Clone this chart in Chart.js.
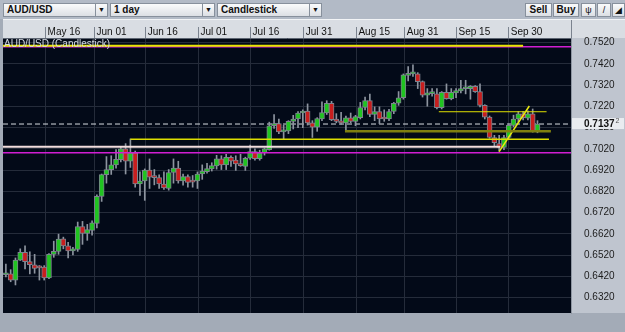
<!DOCTYPE html>
<html>
<head>
<meta charset="utf-8">
<script src="https://cdn.jsdelivr.net/npm/chart.js@4.4.1/dist/chart.umd.min.js"></script>
<style>
  html, body { margin: 0; padding: 0; }
  body { width: 625px; height: 332px; background: #a7afbb; position: relative; overflow: hidden; font-family: "Liberation Sans", Arial, sans-serif; }
  #toolbar { position: absolute; left: 0; top: 0; width: 625px; height: 19px; background: #b2bac6; }
  .dd, .btn { position: absolute; top: 3px; height: 14px; box-sizing: border-box; border: 1px solid #87909c;
    background: linear-gradient(#fafbfc, #dcdfe4); font-size: 10px; font-weight: bold; line-height: 12px; color: #111; }
  .dd span { padding-left: 3px; }
  .dd i { position: absolute; right: 0; top: 0; width: 11px; height: 12px; border-left: 1px solid #87909c;
    font-style: normal; font-size: 7px; text-align: center; line-height: 12px; }
  .btn { text-align: center; }
  .ic { font-weight: normal; font-size: 9px; }
  #chart { position: absolute; left: 0; top: 19px; }
</style>
</head>
<body>
<div id="toolbar">
  <div class="dd" style="left:3px;width:105px"><span>AUD/USD</span><i>&#9660;</i></div>
  <div class="dd" style="left:110px;width:105px"><span>1 day</span><i>&#9660;</i></div>
  <div class="dd" style="left:217px;width:105px"><span>Candlestick</span><i>&#9660;</i></div>
  <div class="btn" style="left:525px;width:27px">Sell</div>
  <div class="btn" style="left:553px;width:26px">Buy</div>
  <div class="btn ic" style="left:581px;width:15px">&#968;</div>
  <div class="btn ic" style="left:597px;width:14px">/</div>
  <div class="btn ic" style="left:612px;width:13px">&#9698;</div>
</div>
<canvas id="chart" width="625" height="313"></canvas>
<script>
// daily candles, AUD/USD
const opens = [0.6428, 0.6432, 0.6403, 0.6497, 0.6533, 0.6490, 0.6475, 0.6464, 0.6464, 0.6413,
  0.6524, 0.6538, 0.6597, 0.6564, 0.6540, 0.6547, 0.6655, 0.6622, 0.6636, 0.6670,
  0.6797, 0.6899, 0.6923, 0.6945, 0.6969, 0.7020, 0.6962, 0.7002, 0.6855, 0.6869,
  0.6920, 0.6890, 0.6885, 0.6855, 0.6834, 0.6909, 0.6930, 0.6869, 0.6890, 0.6870,
  0.6869, 0.6902, 0.6913, 0.6926, 0.6940, 0.6974, 0.6945, 0.6981, 0.6967, 0.6951,
  0.6938, 0.6976, 0.7008, 0.6974, 0.7002, 0.7017, 0.7129, 0.7139, 0.7100, 0.7105,
  0.7150, 0.7161, 0.7189, 0.7198, 0.7143, 0.7122, 0.7161, 0.7189, 0.7235, 0.7161,
  0.7150, 0.7143, 0.7166, 0.7149, 0.7167, 0.7215, 0.7247, 0.7182, 0.7196, 0.7165,
  0.7161, 0.7196, 0.7235, 0.7261, 0.7366, 0.7373, 0.7373, 0.7337, 0.7273, 0.7280,
  0.7279, 0.7214, 0.7286, 0.7257, 0.7283, 0.7293, 0.7303, 0.7304, 0.7314, 0.7290,
  0.7225, 0.7170, 0.7074, 0.7045, 0.7027, 0.7074, 0.7131, 0.7161, 0.7185, 0.7165,
  0.7185, 0.7103];
const highs = [0.6478, 0.6452, 0.6507, 0.6550, 0.6564, 0.6536, 0.6524, 0.6471, 0.6471, 0.6528,
  0.6586, 0.6619, 0.6605, 0.6581, 0.6557, 0.6676, 0.6679, 0.6665, 0.6682, 0.6804,
  0.6902, 0.6984, 0.6988, 0.7017, 0.7031, 0.7045, 0.7067, 0.7010, 0.6912, 0.6926,
  0.6973, 0.6923, 0.6898, 0.6912, 0.6923, 0.6973, 0.6962, 0.6902, 0.6898, 0.6895,
  0.6912, 0.6945, 0.6952, 0.6955, 0.6990, 0.6988, 0.6995, 0.6988, 0.6988, 0.6995,
  0.6981, 0.7038, 0.7020, 0.7014, 0.7024, 0.7146, 0.7182, 0.7161, 0.7132, 0.7153,
  0.7178, 0.7196, 0.7204, 0.7232, 0.7153, 0.7167, 0.7242, 0.7247, 0.7244, 0.7186,
  0.7192, 0.7175, 0.7189, 0.7178, 0.7239, 0.7264, 0.7278, 0.7218, 0.7218, 0.7204,
  0.7206, 0.7239, 0.7290, 0.7373, 0.7408, 0.7416, 0.7379, 0.7340, 0.7304, 0.7304,
  0.7304, 0.7290, 0.7326, 0.7304, 0.7304, 0.7343, 0.7343, 0.7318, 0.7318, 0.7326,
  0.7228, 0.7175, 0.7084, 0.7084, 0.7084, 0.7139, 0.7179, 0.7196, 0.7196, 0.7199,
  0.7208, 0.7153];
const lows = [0.6418, 0.6395, 0.6380, 0.6495, 0.6456, 0.6432, 0.6435, 0.6403, 0.6403, 0.6409,
  0.6510, 0.6524, 0.6550, 0.6507, 0.6521, 0.6538, 0.6571, 0.6590, 0.6614, 0.6648,
  0.6773, 0.6859, 0.6900, 0.6930, 0.6959, 0.6902, 0.6933, 0.6840, 0.6801, 0.6778,
  0.6834, 0.6851, 0.6834, 0.6830, 0.6826, 0.6859, 0.6859, 0.6849, 0.6840, 0.6840,
  0.6834, 0.6877, 0.6906, 0.6916, 0.6925, 0.6923, 0.6923, 0.6938, 0.6919, 0.6938,
  0.6919, 0.6971, 0.6967, 0.6967, 0.6991, 0.7014, 0.7117, 0.7092, 0.7064, 0.7092,
  0.7114, 0.7120, 0.7120, 0.7132, 0.7074, 0.7103, 0.7153, 0.7182, 0.7153, 0.7143,
  0.7135, 0.7110, 0.7143, 0.7129, 0.7161, 0.7204, 0.7172, 0.7153, 0.7139, 0.7150,
  0.7153, 0.7186, 0.7225, 0.7254, 0.7340, 0.7361, 0.7304, 0.7264, 0.7221, 0.7268,
  0.7208, 0.7208, 0.7254, 0.7251, 0.7261, 0.7283, 0.7279, 0.7254, 0.7286, 0.7218,
  0.7161, 0.7070, 0.7031, 0.7010, 0.7017, 0.7067, 0.7124, 0.7146, 0.7156, 0.7156,
  0.7099, 0.7096];
const closes = [0.6435, 0.6403, 0.6497, 0.6533, 0.6490, 0.6475, 0.6458, 0.6460, 0.6413, 0.6524,
  0.6538, 0.6596, 0.6564, 0.6540, 0.6550, 0.6655, 0.6622, 0.6640, 0.6672, 0.6797,
  0.6899, 0.6923, 0.6945, 0.6971, 0.7020, 0.6962, 0.7002, 0.6855, 0.6869, 0.6920,
  0.6887, 0.6885, 0.6855, 0.6837, 0.6909, 0.6930, 0.6869, 0.6890, 0.6863, 0.6864,
  0.6902, 0.6916, 0.6928, 0.6942, 0.6974, 0.6945, 0.6981, 0.6962, 0.6950, 0.6941,
  0.6976, 0.7008, 0.6974, 0.7002, 0.7020, 0.7129, 0.7139, 0.7100, 0.7107, 0.7150,
  0.7161, 0.7189, 0.7198, 0.7143, 0.7122, 0.7163, 0.7191, 0.7235, 0.7158, 0.7149,
  0.7143, 0.7166, 0.7149, 0.7172, 0.7215, 0.7247, 0.7182, 0.7196, 0.7161, 0.7161,
  0.7196, 0.7235, 0.7261, 0.7369, 0.7376, 0.7379, 0.7337, 0.7273, 0.7284, 0.7283,
  0.7214, 0.7286, 0.7257, 0.7286, 0.7294, 0.7304, 0.7307, 0.7314, 0.7290, 0.7225,
  0.7170, 0.7074, 0.7050, 0.7027, 0.7074, 0.7131, 0.7161, 0.7185, 0.7167, 0.7185,
  0.7103, 0.7137];
const lastPrice = 0.71372;

const dateLabels = ["May 16", "Jun 01", "Jun 16", "Jul 01", "Jul 16", "Jul 31", "Aug 15", "Aug 31", "Sep 15", "Sep 30"];
const dateIdx = [8.3, 18.5, 29.2, 40.2, 51.1, 62.2, 73.2, 83.3, 94.1, 105.0];
const priceTicks = [0.6320, 0.6420, 0.6520, 0.6620, 0.6720, 0.6820, 0.6920, 0.7020, 0.7120, 0.7220, 0.7320, 0.7420, 0.7520];

// drawn levels and trend line (candle index / price)
const xMin = -0.6, xMax = 118;
const levelPrice = [0.7505, 0.7501, 0.7195, 0.7103, 0.7066, 0.7030, 0.7002];
const levelFrom = [xMin, xMin, 90.4, 70.8, 26.0, xMin, xMin];
const levelTo = [108.0, xMax, 112.9, 113.8, 113.4, 103.2, xMax];
const trendX = [103.0, 109.3];
const trendY = [0.7007, 0.7222];

const levelColor = ["#e6e600", "#d21ed2", "#e0e000", "#80800f", "#dede00", "#f3dede", "#d21ed2"];
const levelWidth = [2, 1.5, 1, 2.5, 1.5, 2, 1.5];

const FONT = "'Liberation Sans', Arial, sans-serif";
const GRID = "#252c3a";

const chrome = {
  id: "chrome",
  beforeDraw(chart) {
    const { ctx, chartArea: a, width, height } = chart;
    ctx.save();
    ctx.fillStyle = "#a3abb7";
    ctx.fillRect(0, 0, width, height);
    ctx.fillStyle = "#d9dde3";
    ctx.fillRect(a.left, 0, width - a.left, a.top);
    ctx.fillStyle = "#bfc5cf";
    ctx.fillRect(a.right, a.top, width - a.right, a.bottom - a.top);
    ctx.fillStyle = "#030a18";
    ctx.fillRect(a.left, a.top, a.right - a.left, a.bottom - a.top);
    ctx.restore();
  },
  afterDraw(chart) {
    const { ctx, chartArea: a, width } = chart;
    ctx.save();
    // header cell edges
    ctx.fillStyle = "#7b838f";
    ctx.fillRect(a.right, 0, 1, a.top);
    ctx.fillStyle = "#f2f4f6";
    ctx.fillRect(a.left, 0, width - a.left, 1);
    // title
    ctx.font = "10px " + FONT;
    ctx.fillStyle = "#d3d9e1";
    ctx.textBaseline = "alphabetic";
    ctx.fillText("AUD/USD (Candlestick)", a.left + 1, a.top + 9);
    // current price tag
    const y = chart.scales.y.getPixelForValue(lastPrice);
    ctx.fillStyle = "#e9ecf0";
    ctx.fillRect(a.right + 1, y - 6, width - a.right - 2, 11);
    ctx.fillStyle = "#111";
    ctx.font = "bold 10px " + FONT;
    ctx.textBaseline = "middle";
    const txt = lastPrice.toFixed(4);
    ctx.fillText(txt, a.right + 13, y);
    const w = ctx.measureText(txt).width;
    ctx.font = "7px " + FONT;
    ctx.fillStyle = "#555";
    ctx.fillText(String(Math.round(lastPrice * 1e5) % 10), a.right + 14 + w, y - 3);
    ctx.restore();
  }
};

const levelSets = levelPrice.map((p, i) => ({
  type: "line",
  data: [{ x: levelFrom[i], y: p }, { x: levelTo[i], y: p }],
  borderColor: levelColor[i],
  borderWidth: levelWidth[i],
  pointRadius: 0,
  order: 0
}));

new Chart(document.getElementById("chart").getContext("2d"), {
  type: "bar",
  data: {
    datasets: [
      {
        label: "wick",
        data: highs.map((h, i) => ({ x: i, y: [lows[i], h] })),
        backgroundColor: "#8d949f",
        barThickness: 1,
        grouped: false,
        order: 3
      },
      {
        label: "body",
        data: opens.map((o, i) => ({ x: i, y: [o, closes[i]] })),
        backgroundColor: opens.map((o, i) => (closes[i] >= o ? "#20c420" : "#c81e1e")),
        borderColor: "#7c838e",
        borderWidth: 1,
        borderSkipped: false,
        barThickness: 5,
        minBarLength: 2,
        grouped: false,
        order: 2
      },
      {
        type: "line",
        label: "last",
        data: [{ x: xMin, y: lastPrice }, { x: xMax, y: lastPrice }],
        borderColor: "#d8dde3",
        borderWidth: 1,
        borderDash: [5, 3],
        pointRadius: 0,
        order: 4
      },
      ...levelSets,
      {
        type: "line",
        label: "trend",
        data: trendX.map((x, i) => ({ x: x, y: trendY[i] })),
        borderColor: "#ecec10",
        borderWidth: 1.5,
        pointRadius: 0,
        order: 0
      }
    ]
  },
  options: {
    responsive: false,
    animation: false,
    layout: { padding: { left: 3, right: 0, top: 0, bottom: 2 } },
    plugins: { legend: { display: false }, tooltip: { enabled: false } },
    scales: {
      x: {
        type: "linear",
        position: "top",
        min: xMin,
        max: xMax,
        offset: false,
        afterBuildTicks: (s) => { s.ticks = dateIdx.map((v) => ({ value: v })); },
        afterFit: (s) => { s.height = 11; },
        grid: { color: GRID, tickColor: "#7b838f", tickLength: 11, offset: false },
        border: { color: "#5d6572" },
        ticks: {
          align: "start",
          labelOffset: 2,
          padding: -11.5,
          autoSkip: false,
          maxRotation: 0,
          color: "#111",
          font: { family: FONT, size: 10 },
          callback: (v, i) => dateLabels[i]
        }
      },
      y: {
        position: "right",
        min: 0.6248,
        max: 0.7542,
        beginAtZero: false,
        afterBuildTicks: (s) => { s.ticks = priceTicks.map((v) => ({ value: v })); },
        afterFit: (s) => { s.width = 54; },
        grid: { color: GRID, drawTicks: false },
        border: { color: "#8e96a2" },
        ticks: {
          padding: 13,
          color: "#1c1c1c",
          font: { family: FONT, size: 10 },
          callback: (v) => v.toFixed(4)
        }
      }
    }
  },
  plugins: [chrome]
});
</script>
</body>
</html>
